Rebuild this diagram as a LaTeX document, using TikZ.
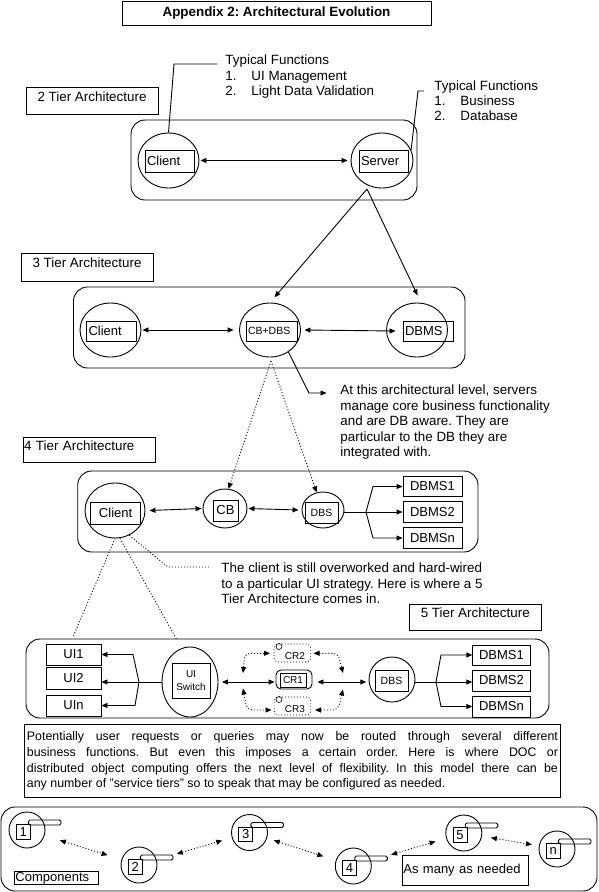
\documentclass[tikz,border=0pt]{standalone}
\usepackage{fontspec}
\setmainfont{Liberation Sans}
\usetikzlibrary{shapes.geometric,arrows.meta,calc}
\frenchspacing
\newcommand{\mycomp}[4]{%
  \node[circle, draw, minimum size=36pt] (#1) at (#2,#3) {};
  \draw[rounded corners=1.5pt] ($(#1)+(1.4,-10)$) rectangle ($(#1)+(34,-5)$);
  \node[draw, minimum width=14pt, minimum height=14.4pt, anchor=north west, font=\fontsize{13}{15}\selectfont] (#1s) at ($(#1)+(-11.3,-5.7)$) {#4};
}
\begin{document}
\begin{tikzpicture}[x=1pt,y=-1pt, line width=0.9pt,
  every node/.style={font=\fontsize{13.4}{15.5}\selectfont, inner sep=0pt},
  arr/.style={-{Triangle[length=6pt,width=5pt]}},
  darr/.style={{Triangle[length=6pt,width=5pt]}-{Triangle[length=6pt,width=5pt]}},
  dots/.style={dash pattern=on 1pt off 2pt},
  ell/.style={ellipse, draw},
  box/.style={draw, rectangle, font=\fontsize{13}{15}\selectfont},
  lbox/.style={box, align=left, inner xsep=2pt},
  sbox/.style={draw, rectangle, font=\fontsize{10.5}{12.5}\selectfont},
  tier/.style={draw, rectangle, text height=9.5pt, text depth=8pt},
  grp/.style={draw, rounded corners=14pt},
  txt/.style={align=left, anchor=north west},
]
\useasboundingbox (0,0) rectangle (598,892);

% title
\node[draw, minimum width=309pt, minimum height=24pt, font=\bfseries\fontsize{13.4}{16}\selectfont] (title) at (276.5,13) {Appendix 2: Architectural Evolution};

% ---------- 2 tier ----------
\node[tier, minimum width=132pt, minimum height=27pt] (t2) at (92,100.5) {2 Tier Architecture};
\draw[grp] (131,120) rectangle (417,200);
\node[ell, minimum width=61pt, minimum height=55pt] (cl2) at (168.5,160.5) {};
\node[lbox, minimum height=22pt, text width=45pt] (cl2b) at (169.5,161) {Client};
\node[ell, minimum width=62pt, minimum height=55pt] (sv2) at (382,160.5) {};
\node[lbox, minimum height=22pt, text width=45pt] (sv2b) at (383.5,161) {Server};
\draw[darr] ([xshift=1pt]cl2.east) -- ([xshift=-3pt]sv2.west);

\node[txt] (tf1) at (225,54.8) {Typical Functions\\\makebox[26pt][l]{1.}UI Management\\\makebox[26pt][l]{2.}Light Data Validation};
\node[txt, font=\fontsize{13.4}{15}\selectfont] (tf2) at (434,80.8) {Typical Functions\\\makebox[26pt][l]{1.}Business\\\makebox[26pt][l]{2.}Database};
\coordinate (tf1k) at (174,64); \coordinate (tf1e) at (217,64);
\draw (cl2.north) -- (tf1k) -- (tf1e);
\coordinate (tf2k) at (418,91); \coordinate (tf2e) at (424,91);
\draw (sv2.20) -- (tf2k) -- (tf2e);

% ---------- 3 tier ----------
\node[tier, minimum width=132pt, minimum height=28pt] (t3) at (87,267) {3 Tier Architecture};
\draw[grp] (73.5,287) rectangle (465,368);
\node[ell, minimum width=61pt, minimum height=54pt] (cl3) at (110.5,330) {};
\node[lbox, minimum height=20pt, text width=45.5pt] (cl3b) at (111.25,331) {Client};
\node[ell, minimum width=61pt, minimum height=54pt] (cbdbs3) at (270,330) {};
\node[lbox, font=\fontsize{10.5}{12.5}\selectfont, minimum height=20pt, text width=47pt] (cbdbs3b) at (271.5,331) {CB+DBS};
\node[ell, minimum width=61pt, minimum height=54pt] (dbms3) at (417,330) {};
\node[lbox, minimum height=20pt, text width=46pt] (dbms3b) at (428,331) {DBMS};
\draw[darr] ([xshift=1pt]cl3.east) -- ([xshift=-5.5pt]cbdbs3.west);
\draw[darr] ([xshift=3.5pt]cbdbs3.east) -- ([xshift=-7pt]dbms3b.west);

\coordinate (fork2) at (367,189);
\draw[arr, shorten >=7pt] (fork2) -- (cbdbs3.north);
\draw[arr, shorten >=8pt] (fork2) -- ([xshift=4pt]dbms3.north);

\coordinate (co3k) at (309,393); \coordinate (co3e) at (326.5,393);
\draw[arr] (cbdbs3.-50) -- (co3k) -- (co3e);
\node[txt] (co3) at (340,384.8) {At this architectural level, servers\\manage core business functionality\\and are DB aware. They are\\particular to the DB they are\\integrated with.};

% ---------- 4 tier ----------
\node[tier, minimum width=132pt, minimum height=25pt, text width=130pt, align=left, inner xsep=1pt] (t4) at (89,449.5) {4 Tier Architecture};
\draw[grp] (77.7,471) rectangle (478,552);
\node[ell, minimum width=60pt, minimum height=55pt] (cl4) at (115,510.5) {};
\node[box, minimum width=50pt, minimum height=22pt] (cl4b) at (115.6,513) {Client};
\node[ell, minimum width=44pt, minimum height=39pt] (cb4) at (225,508.5) {};
\node[box, minimum width=25pt, minimum height=21pt] (cb4b) at (225.5,510.5) {CB};
\node[ell, minimum width=42pt, minimum height=36pt] (dbs4) at (323,510) {};
\node[sbox, minimum width=33pt, minimum height=21pt] (dbs4b) at (321.5,512.5) {DBS};
\draw[darr] ([xshift=4pt]cl4.east) -- ([xshift=-1pt]cb4.west);
\draw[darr] ([xshift=1pt]cb4.east) -- ([xshift=-3pt]dbs4.west);
\node[box, minimum width=59pt, minimum height=20.5pt] (d41) at (432.5,486.5) {DBMS1};
\node[box, minimum width=59pt, minimum height=20.5pt] (d42) at (432.5,512) {DBMS2};
\node[box, minimum width=59pt, minimum height=20.5pt] (d4n) at (432.5,538) {DBMSn};
\coordinate (j4) at (366,512); \coordinate (j4t) at (373,486.5); \coordinate (j4b) at (373,538);
\draw (dbs4.east |- j4) -- (j4);
\draw[arr] (j4) -- (d42.west);
\draw[arr] (j4) -- (j4t) -- (d41.west);
\draw[arr] (j4) -- (j4b) -- (d4n.west);

\coordinate (fork3) at (271,361);
\draw[dots, arr] (fork3) -- (cb4.80);
\draw[dots, arr] (fork3) -- (dbs4.110);

\coordinate (co4k) at (168,567); \coordinate (co4e) at (210,567);
\draw[dots] (cl4.-60) -- (co4k) -- (co4e);
\node[txt] (co4) at (221,562.8) {The client is still overworked and hard-wired\\to a particular UI strategy. Here is where a 5\\Tier Architecture comes in.};

\coordinate (e5a) at (73,637); \coordinate (e5b) at (177,640);
\draw[dots] (cl4.south) -- (e5a);
\draw[dots] ([xshift=5pt]cl4.south) -- (e5b);

% ---------- 5 tier ----------
\node[tier, minimum width=131.5pt, minimum height=26pt] (t5) at (475.25,617) {5 Tier Architecture};
\draw[grp] (26,639) rectangle (549,718);
\node[box, minimum width=55pt, minimum height=21pt] (ui1) at (73.5,654.5) {UI1};
\node[box, minimum width=55pt, minimum height=22pt] (ui2) at (73.5,678) {UI2};
\node[box, minimum width=55pt, minimum height=21pt] (uin) at (73.5,705.5) {UIn};
\node[ell, minimum width=56pt, minimum height=70pt] (uis) at (190,682) {};
\node[sbox, minimum width=38pt, minimum height=35pt, align=center, font=\fontsize{10}{12.5}\selectfont] (uisb) at (191,680.5) {UI\\Switch};
\coordinate (lane5) at (0,682);
\coordinate (j5) at (139,682); \coordinate (j5t) at (133,654.5); \coordinate (j5b) at (135,705.5);
\draw (uis.west) -- (j5);
\draw[arr] (j5) -- (ui2.east |- lane5);
\draw[arr] (j5) -- (j5t) -- (ui1.east);
\draw[arr] (j5) -- (j5b) -- (uin.east);

\node[draw, rounded corners=5pt, minimum width=36pt, minimum height=19pt] (cr1) at (294,679.5) {};
\node[draw, minimum width=26pt, minimum height=14pt, font=\fontsize{10}{12}\selectfont] (cr1b) at (293,680) {CR1};
\node[ell, minimum width=46pt, minimum height=45pt] (dbs5) at (392,679.5) {};
\node[sbox, minimum width=33pt, minimum height=21pt] (dbs5b) at (391.5,680.5) {DBS};
\draw[darr] ($(uis.east)+(3.5,0)$) -- ($(cr1.west |- lane5)+(-1,0)$);
\draw[darr] ($(cr1.east |- lane5)+(5,0)$) -- ($(dbs5.west |- lane5)+(-2.3,0)$);

\node[draw, dots, line width=0.6pt, rounded corners=4pt, minimum width=36.7pt, minimum height=18pt] (cr2) at (292.3,653) {};
\node[font=\fontsize{10}{12}\selectfont] (cr2t) at (295,656.5) {CR2};
\node[circle, draw, line width=0.6pt, minimum size=6pt] (cr2o) at (279,646.5) {};
\node[draw, dots, line width=0.6pt, rounded corners=4pt, minimum width=36.7pt, minimum height=18pt] (cr3) at (292.5,706) {};
\node[font=\fontsize{10}{12}\selectfont] (cr3t) at (295,709.5) {CR3};
\node[circle, draw, line width=0.6pt, minimum size=6pt] (cr3o) at (279,699.5) {};

\coordinate (lt1) at (243,673); \coordinate (lt2) at (245,653.3); \coordinate (lt3) at (270,653.3);
\coordinate (rt1) at (313.5,653.3); \coordinate (rt2) at (338,653.3); \coordinate (rt3) at (343,673);
\coordinate (lb1) at (243,688.5); \coordinate (lb2) at (247,710); \coordinate (lb3) at (271.5,710);
\coordinate (rb1) at (315,710); \coordinate (rb2) at (338,710); \coordinate (rb3) at (343,689.5);
\draw[dots, darr, rounded corners=5pt] (lt1) -- (lt2) -- (lt3);
\draw[dots, darr, rounded corners=5pt] (rt1) -- (rt2) -- (rt3);
\draw[dots, darr, rounded corners=5pt] (lb1) -- (lb2) -- (lb3);
\draw[dots, darr, rounded corners=5pt] (rb1) -- (rb2) -- (rb3);

\node[box, minimum width=57.3pt, minimum height=20pt] (d51) at (501.4,655) {DBMS1};
\node[box, minimum width=57.3pt, minimum height=21pt] (d52) at (501.4,680.5) {DBMS2};
\node[box, minimum width=57.3pt, minimum height=21pt] (d5n) at (501.4,706.5) {DBMSn};
\coordinate (j6) at (436,682); \coordinate (j6t) at (441,655); \coordinate (j6b) at (441,706.5);
\draw (dbs5.east |- lane5) -- (j6);
\draw[arr] (j6) -- (d52.west |- lane5);
\draw[arr] (j6) -- (j6t) -- (d51.west);
\draw[arr] (j6) -- (j6b) -- (d5n.west);

% ---------- paragraph ----------
\node[draw, text width=531pt, inner xsep=2.5pt, inner ysep=0pt, minimum height=73pt, anchor=north west, align=justify, font=\fontsize{12.4}{15.7}\selectfont] (para) at (24,724) {Potentially user requests or queries may now be routed through several different\linebreak business functions. But even this imposes a certain order. Here is where DOC or\linebreak distributed object computing offers the next level of flexibility. In this model there can be\linebreak any number of "service tiers" so to speak that may be configured as needed.};

% ---------- components ----------
\draw[grp] (1,807) rectangle (597,891);
\mycomp{c1}{27}{830}{1}
\mycomp{c2}{139}{865}{2}
\mycomp{c3}{249.5}{832.5}{3}
\mycomp{c4}{353.3}{866}{4}
\mycomp{c5}{463.8}{833}{5}
\mycomp{cn}{557}{849}{n}
\draw[dots, darr, shorten <=16pt, shorten >=14.5pt] (c1) -- (c2);
\draw[dots, darr, shorten <=21pt, shorten >=10pt] (c2) -- (c3);
\draw[dots, darr, shorten <=7pt, shorten >=13pt] (c3) -- (c4);
\draw[dots, darr, shorten <=21pt, shorten >=11pt] (c4) -- (c5);
\draw[dots, darr, shorten <=9pt, shorten >=7pt] (c5) -- (cn);
\node[draw, minimum width=84pt, minimum height=13pt, text width=82pt, align=left, inner xsep=1pt, anchor=north west, font=\fontsize{13}{15}\selectfont] (comps) at (14,871) {Components};
\node[draw, minimum width=126pt, minimum height=30pt, text width=124pt, align=left, inner xsep=1pt, anchor=north west, font=\fontsize{13}{15}\selectfont] (asmany) at (402,855) {As many as needed};
\end{tikzpicture}
\end{document}
